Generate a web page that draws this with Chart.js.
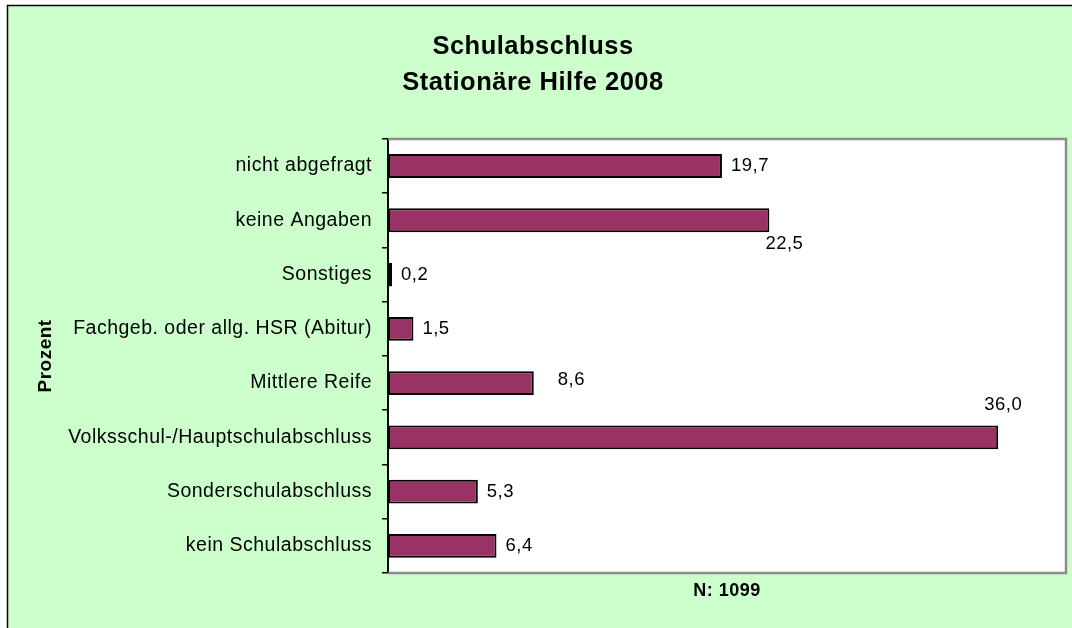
<!DOCTYPE html>
<html>
<head>
<meta charset="utf-8">
<script src="https://cdn.jsdelivr.net/npm/chart.js@4/dist/chart.umd.min.js"></script>
<style>
  body { margin: 0; background: #ffffff; }
  canvas { display: block; }
</style>
</head>
<body>
<canvas id="schulChart" width="1072" height="628"></canvas>
<script>
// data (top to bottom)
const categories = [
  "nicht abgefragt",
  "keine Angaben",
  "Sonstiges",
  "Fachgeb. oder allg. HSR (Abitur)",
  "Mittlere Reife",
  "Volksschul-/Hauptschulabschluss",
  "Sonderschulabschluss",
  "kein Schulabschluss"
];
const percentValues = [19.7, 22.5, 0.2, 1.5, 8.6, 36.0, 5.3, 6.4];
const titleLines = ["Schulabschluss", "Stationäre Hilfe 2008"];
const yTitle = "Prozent";
const xTitle = "N: 1099";

// label nudges (dx, dy), like the hand-moved labels in the original
const labelShiftX = [0, -13, 0, 0, 15, -23, 0, 0];
const labelShiftY = [0, 24, 0, 0, -3, -32, 0, 0];

const FONT = "'Liberation Sans', Arial, sans-serif";

const frame = {
  id: "frame",
  beforeDraw(chart) {
    const { ctx, chartArea: a } = chart;
    ctx.save();
    ctx.fillStyle = "#ffffff";
    ctx.fillRect(0, 0, chart.width, chart.height);
    ctx.fillStyle = "#ccffcc";
    ctx.fillRect(7, 5, chart.width - 7, chart.height - 5);
    ctx.strokeStyle = "#000000";
    ctx.lineWidth = 1.5;
    ctx.beginPath();
    ctx.moveTo(7.5, chart.height);
    ctx.lineTo(7.5, 5.5);
    ctx.lineTo(chart.width, 5.5);
    ctx.stroke();
    ctx.fillStyle = "#ffffff";
    ctx.fillRect(a.left, a.top, a.right - a.left, a.bottom - a.top);
    ctx.restore();
    // Excel-like wider text
    ctx.letterSpacing = "0.5px";
  },
  afterDatasetsDraw(chart) {
    const { ctx, chartArea: a } = chart;
    ctx.save();
    ctx.strokeStyle = "#8c8c8c";
    ctx.lineWidth = 2.5;
    ctx.beginPath();
    ctx.moveTo(a.left, a.top);
    ctx.lineTo(a.right, a.top);
    ctx.lineTo(a.right, a.bottom);
    ctx.lineTo(a.left, a.bottom);
    ctx.stroke();

    // value labels
    const meta = chart.getDatasetMeta(0);
    ctx.fillStyle = "#000000";
    ctx.font = "18.5px " + FONT;
    ctx.textAlign = "left";
    ctx.textBaseline = "middle";
    meta.data.forEach((bar, i) => {
      const txt = percentValues[i].toFixed(1).replace(".", ",");
      ctx.fillText(txt, bar.x + 9 + labelShiftX[i], bar.y + labelShiftY[i]);
    });
    ctx.restore();
  },
  afterDraw(chart) {
    chart.ctx.letterSpacing = "0px";
  }
};

new Chart(document.getElementById("schulChart"), {
  type: "bar",
  data: {
    labels: categories,
    datasets: [{
      data: percentValues,
      backgroundColor: "#993366",
      borderColor: "#000000",
      borderWidth: 2,
      borderSkipped: false,
      barPercentage: 0.44,
      categoryPercentage: 1,
      minBarLength: 4
    }]
  },
  options: {
    indexAxis: "y",
    responsive: false,
    animation: false,
    layout: { padding: { left: 0, right: 6, top: 0, bottom: 0 } },
    plugins: {
      legend: { display: false },
      tooltip: { enabled: false },
      title: {
        display: true,
        text: titleLines,
        color: "#000000",
        font: { family: FONT, size: 25.5, weight: "bold", lineHeight: 1.41 },
        padding: { top: 29, bottom: 38 }
      }
    },
    scales: {
      x: {
        min: 0,
        max: 40,
        ticks: { display: false },
        grid: { display: false },
        border: { display: false },
        title: {
          display: true,
          text: xTitle,
          color: "#000000",
          font: { family: FONT, size: 18, weight: "bold" },
          padding: { top: 4, bottom: 26 }
        },
        afterFit(scale) { scale.height = 55; }
      },
      y: {
        ticks: {
          color: "#000000",
          font: { family: FONT, size: 19.5 },
          padding: 10
        },
        grid: {
          drawOnChartArea: false,
          drawTicks: true,
          tickLength: 6,
          color: "#000000",
          lineWidth: 1.5
        },
        border: { display: true, color: "#000000", width: 2 },
        title: {
          display: true,
          text: yTitle,
          color: "#000000",
          font: { family: FONT, size: 19, weight: "bold" },
          padding: { top: 34, bottom: 0 }
        },
        afterFit(scale) { scale.width = 388; }
      }
    }
  },
  plugins: [frame]
});
</script>
</body>
</html>
